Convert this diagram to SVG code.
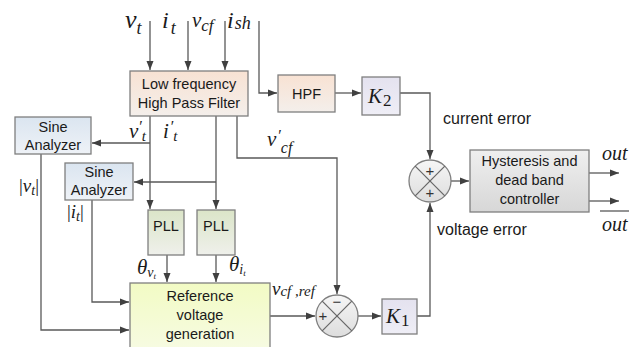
<svg xmlns="http://www.w3.org/2000/svg" width="636" height="347" viewBox="0 0 636 347">
<defs>
<linearGradient id="gPeach" x1="0" y1="0" x2="0" y2="1"><stop offset="0" stop-color="#f8e2d3"/><stop offset="1" stop-color="#f4efeb"/></linearGradient>
<linearGradient id="gLav" x1="0" y1="0" x2="0" y2="1"><stop offset="0" stop-color="#e4e2ef"/><stop offset="1" stop-color="#efeef6"/></linearGradient>
<linearGradient id="gBlue" x1="0" y1="0" x2="0" y2="1"><stop offset="0" stop-color="#dbe5f0"/><stop offset="1" stop-color="#eef2f7"/></linearGradient>
<linearGradient id="gGreen" x1="0" y1="0" x2="0" y2="1"><stop offset="0" stop-color="#dbe5c8"/><stop offset="1" stop-color="#eff0eb"/></linearGradient>
<linearGradient id="gYellow" x1="0" y1="0" x2="0" y2="1"><stop offset="0" stop-color="#f2fbc4"/><stop offset="1" stop-color="#f7fbe4"/></linearGradient>
<linearGradient id="gGray" x1="0" y1="0" x2="0" y2="1"><stop offset="0" stop-color="#efefef"/><stop offset="1" stop-color="#d7d7d7"/></linearGradient>
<linearGradient id="gCirc" x1="0" y1="0" x2="0" y2="1"><stop offset="0" stop-color="#f6f6f6"/><stop offset="1" stop-color="#dddddd"/></linearGradient>
<marker id="arr" markerUnits="userSpaceOnUse" markerWidth="10" markerHeight="8" refX="9" refY="4" orient="auto"><path d="M0,0.5 L9,4 L0,7.5 z" fill="#404040"/></marker>
<style>
.box{stroke:#7f7f7f;stroke-width:1.3}
.lbl{font-family:"Liberation Sans",Arial,sans-serif;font-size:14.5px;fill:#1a1a1a;text-anchor:middle}
.txt{font-family:"Liberation Sans",Arial,sans-serif;font-size:16px;fill:#1a1a1a}
.m{font-family:"Liberation Serif","Times New Roman",serif;font-style:italic;fill:#1a1a1a}
.up{font-family:"Liberation Serif","Times New Roman",serif;fill:#1a1a1a}
.conn{fill:none;stroke:#595959;stroke-width:1.3}
.sign{font-family:"Liberation Sans",Arial,sans-serif;font-size:15px;fill:#333;text-anchor:middle}
.xl{stroke:#666;stroke-width:1.2}
</style>
</defs>
<rect width="636" height="347" fill="#ffffff"/>

<g id="connectors">
<path class="conn" d="M150,21 V70" marker-end="url(#arr)"/>
<path class="conn" d="M188,21 V70" marker-end="url(#arr)"/>
<path class="conn" d="M225,21 V70" marker-end="url(#arr)"/>
<path class="conn" d="M259,21 V93 H277" marker-end="url(#arr)"/>
<path class="conn" d="M335,93 H361" marker-end="url(#arr)"/>
<path class="conn" d="M400,93 H430 V159" marker-end="url(#arr)"/>
<path class="conn" d="M451,181 H469" marker-end="url(#arr)"/>
<path class="conn" d="M589,173 H619" marker-end="url(#arr)"/>
<path class="conn" d="M589,201 H619" marker-end="url(#arr)"/>
<path class="conn" d="M150,116 V209" marker-end="url(#arr)"/>
<path class="conn" d="M150,143 H92" marker-end="url(#arr)"/>
<path class="conn" d="M216,116 V209" marker-end="url(#arr)"/>
<path class="conn" d="M216,182 H134" marker-end="url(#arr)"/>
<path class="conn" d="M237,116 V158 H337 V294" marker-end="url(#arr)"/>
<path class="conn" d="M41,154 V330 H129" marker-end="url(#arr)"/>
<path class="conn" d="M92,200 V302 H129" marker-end="url(#arr)"/>
<path class="conn" d="M167,255 V282" marker-end="url(#arr)"/>
<path class="conn" d="M216,255 V282" marker-end="url(#arr)"/>
<path class="conn" d="M270,316 H315" marker-end="url(#arr)"/>
<path class="conn" d="M358,316 H381" marker-end="url(#arr)"/>
<path class="conn" d="M417,316 H430 V203" marker-end="url(#arr)"/>
</g>

<g id="inputs">
<text class="m" x="125" y="28" font-size="26">v<tspan font-size="18" dy="6">t</tspan></text>
<text class="m" x="162" y="28" font-size="24">i<tspan font-size="18" dy="6" dx="2">t</tspan></text>
<text class="m" x="192" y="27" font-size="21">v<tspan font-size="17" dy="4">cf</tspan></text>
<text class="m" x="227" y="28" font-size="24">i<tspan font-size="18" dy="1" dx="1">sh</tspan></text>
</g>

<g id="lpf">
<rect class="box" x="130" y="71" width="118" height="45" fill="url(#gPeach)"/>
<text class="lbl" x="189" y="89">Low frequency</text>
<text class="lbl" x="189" y="108">High Pass Filter</text>
</g>

<g id="hpf">
<rect class="box" x="278" y="75" width="57" height="37" fill="url(#gPeach)"/>
<text class="lbl" x="306.5" y="99">HPF</text>
</g>

<g id="k2">
<rect class="box" x="362" y="77" width="38" height="38" fill="url(#gLav)"/>
<text class="m" x="368" y="103" font-size="21">K<tspan class="up" font-style="normal" font-size="17" dy="3" dx="1">2</tspan></text>
</g>

<g id="sine1">
<rect class="box" x="15" y="117" width="76" height="37" fill="url(#gBlue)"/>
<text class="lbl" x="53" y="132">Sine</text>
<text class="lbl" x="53" y="150">Analyzer</text>
</g>

<g id="sine2">
<rect class="box" x="65" y="163" width="68" height="37" fill="url(#gBlue)"/>
<text class="lbl" x="99" y="177">Sine</text>
<text class="lbl" x="99" y="195">Analyzer</text>
</g>

<g id="labels">
<text class="m" x="129" y="138" font-size="21">v<tspan font-size="16" dy="-6">′</tspan><tspan font-size="15" dy="9">t</tspan></text>
<text class="m" x="163" y="138" font-size="21">i<tspan font-size="16" dy="-6" dx="1">′</tspan><tspan font-size="15" dy="9">t</tspan></text>
<text class="m" x="267" y="146" font-size="21">v<tspan font-size="16" dy="-5" dx="1">′</tspan><tspan font-size="16" dy="12">cf</tspan></text>
<text class="m" x="19" y="192" font-size="19"><tspan font-style="normal">|</tspan>v<tspan font-size="14" dy="3">t</tspan><tspan font-style="normal" dy="-3">|</tspan></text>
<text class="m" x="67" y="218" font-size="19"><tspan font-style="normal">|</tspan>i<tspan font-size="14" dy="3">t</tspan><tspan font-style="normal" dy="-3">|</tspan></text>
<text class="m" x="137" y="274" font-size="21">θ<tspan font-size="14" dy="3">v</tspan><tspan font-size="9" dy="2">t</tspan></text>
<text class="m" x="229" y="271" font-size="21">θ<tspan font-size="14" dy="3">i</tspan><tspan font-size="9" dy="2">t</tspan></text>
<text class="m" x="272" y="295" font-size="19">v<tspan font-size="15" dy="1">cf ,ref</tspan></text>
<text class="txt" x="443" y="124">current error</text>
<text class="txt" x="437" y="235">voltage error</text>
<text class="m" x="602" y="160" font-size="20">out</text>
<line x1="600" y1="211" x2="629" y2="211" stroke="#595959" stroke-width="1.3"/>
<text class="m" x="602" y="231" font-size="20">out</text>
</g>

<g id="pll1">
<rect class="box" x="148" y="210" width="36" height="45" fill="url(#gGreen)"/>
<text class="lbl" x="166" y="231" font-size="14">PLL</text>
</g>

<g id="pll2">
<rect class="box" x="197" y="210" width="38" height="45" fill="url(#gGreen)"/>
<text class="lbl" x="216" y="231" font-size="14">PLL</text>
</g>

<g id="refgen">
<rect class="box" x="130" y="283" width="140" height="72" fill="url(#gYellow)"/>
<text class="lbl" x="200" y="301">Reference</text>
<text class="lbl" x="200" y="320">voltage</text>
<text class="lbl" x="200" y="339">generation</text>
</g>

<g id="sum2">
<circle class="box" cx="337" cy="316" r="21" fill="url(#gCirc)"/>
<line class="xl" x1="322.2" y1="301.2" x2="351.8" y2="330.8"/>
<line class="xl" x1="351.8" y1="301.2" x2="322.2" y2="330.8"/>
<text class="sign" x="337" y="307">−</text>
<text class="sign" x="323" y="321">+</text>
</g>

<g id="k1">
<rect class="box" x="382" y="299" width="35" height="35" fill="url(#gLav)"/>
<text class="m" x="386" y="323" font-size="21">K<tspan class="up" font-style="normal" font-size="17" dy="3" dx="1">1</tspan></text>
</g>

<g id="sum1">
<circle class="box" cx="430" cy="181" r="21" fill="url(#gCirc)"/>
<line class="xl" x1="415.2" y1="166.2" x2="444.8" y2="195.8"/>
<line class="xl" x1="444.8" y1="166.2" x2="415.2" y2="195.8"/>
<text class="sign" x="430" y="176">+</text>
<text class="sign" x="430" y="198">+</text>
</g>

<g id="hyst">
<rect class="box" x="470" y="150" width="119" height="62" fill="url(#gGray)"/>
<text class="lbl" x="529.5" y="166">Hysteresis and</text>
<text class="lbl" x="529.5" y="185">dead band</text>
<text class="lbl" x="529.5" y="204">controller</text>
</g>
</svg>
